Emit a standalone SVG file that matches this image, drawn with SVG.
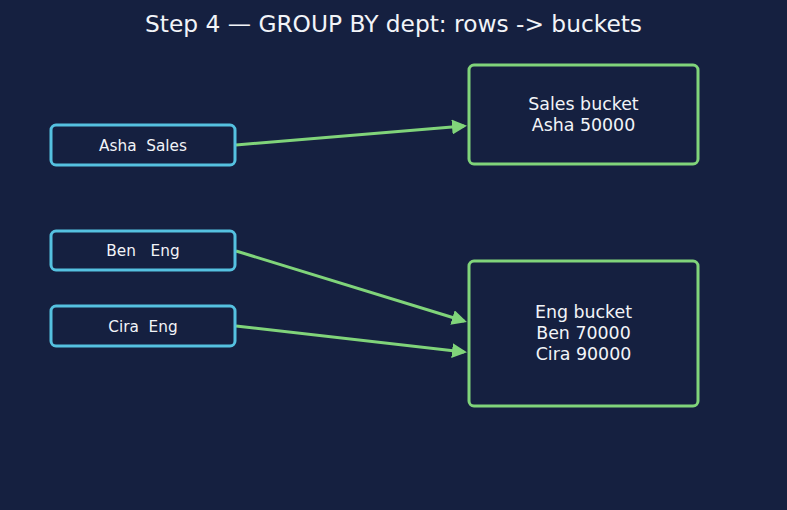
<svg xmlns="http://www.w3.org/2000/svg" width="787" height="510" viewBox="0 0 787 510">
<defs>
<style>
.bg{fill:#152040}
.row rect{fill:#152040;stroke:#55c1e0;stroke-width:3}
.bucket rect{fill:#152040;stroke:#80d47a;stroke-width:3}
text{font-family:"DejaVu Sans","Liberation Sans",sans-serif;fill:#f2f4f8;text-anchor:middle;white-space:pre}
.row text{font-size:15.3px}
.bucket text{font-size:17.4px}
.title{font-size:23.3px}
.edge{stroke:#80d47a;stroke-width:3;fill:none;marker-end:url(#ah)}
</style>
<marker id="ah" viewBox="0 0 10 10" refX="8" refY="5" markerWidth="5" markerHeight="5" orient="auto" markerUnits="strokeWidth">
<path d="M0,0 L10,5 L0,10 z" fill="#80d47a"/>
</marker>
</defs>
<rect class="bg" x="0" y="0" width="787" height="510"/>
<text class="title" x="393.5" y="32">Step 4 — GROUP BY dept: rows -&gt; buckets</text>
<g id="connectors">
<line class="edge" x1="236" y1="145" x2="464" y2="126"/>
<line class="edge" x1="236" y1="251" x2="464" y2="321"/>
<line class="edge" x1="236" y1="326" x2="464" y2="352"/>
</g>
<g id="n_asha" class="row">
<rect x="51" y="125" width="184" height="40" rx="5"/>
<text x="143" y="150.5" xml:space="preserve">Asha  Sales</text>
</g>
<g id="n_ben" class="row">
<rect x="51" y="231" width="184" height="39" rx="5"/>
<text x="143" y="256" xml:space="preserve">Ben   Eng</text>
</g>
<g id="n_cira" class="row">
<rect x="51" y="306" width="184" height="40" rx="5"/>
<text x="143" y="331.5" xml:space="preserve">Cira  Eng</text>
</g>
<g id="b_sales" class="bucket">
<rect x="469" y="65" width="229" height="99" rx="5"/>
<text x="583.5" y="110">Sales bucket</text>
<text x="583.5" y="131">Asha 50000</text>
</g>
<g id="b_eng" class="bucket">
<rect x="469" y="261" width="229" height="145" rx="5"/>
<text x="583.5" y="318">Eng bucket</text>
<text x="583.5" y="339">Ben 70000</text>
<text x="583.5" y="360">Cira 90000</text>
</g>
</svg>
